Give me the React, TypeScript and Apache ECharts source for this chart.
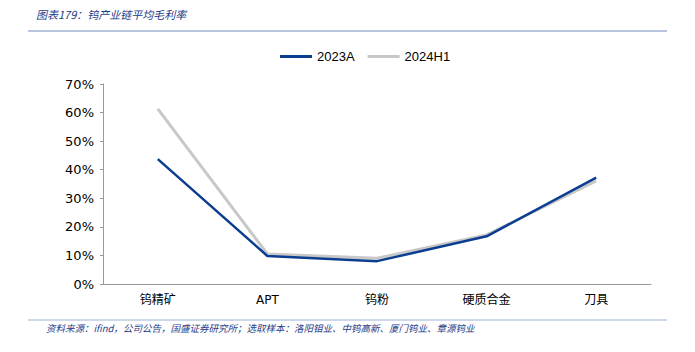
import React, { useEffect, useRef } from "react";
import * as echarts from "echarts";

const categories = ["钨精矿", "APT", "钨粉", "硬质合金", "刀具"];
const series2023A = [43.7, 9.8, 8.0, 16.7, 37.2];
const series2024H1 = [61.3, 10.5, 9.0, 17.2, 36.1];
const yTicks = [0, 10, 20, 30, 40, 50, 60, 70];
const titleText = "图表179：钨产业链平均毛利率";
const sourceText = "资料来源：ifind，公司公告，国盛证券研究所；选取样本：洛阳钼业、中钨高新、厦门钨业、章源钨业";

export default function App() {
  const ref = useRef<HTMLDivElement>(null);
  useEffect(() => {
    if (!ref.current) return;
    const chart = echarts.init(ref.current, null, { renderer: "svg" });
    const font = "'DejaVu Sans', 'Noto Sans CJK SC', sans-serif";
    const legendFont = "'Liberation Sans', 'Noto Sans CJK SC', sans-serif";
    chart.setOption({
      animation: false,
      backgroundColor: "#ffffff",
      textStyle: { fontFamily: font },
      graphic: [
        {
          type: "text",
          left: 36,
          top: 8,
          style: {
            text: titleText,
            fill: "#1f3c88",
            font: "italic 11px 'Noto Sans CJK SC', sans-serif",
          },
        },
        {
          type: "line",
          shape: { x1: 28, y1: 31, x2: 667, y2: 31 },
          style: { stroke: "#9fb2d6", lineWidth: 1.5 },
        },
        {
          type: "line",
          shape: { x1: 28, y1: 320, x2: 667, y2: 320 },
          style: { stroke: "#9fb2d6", lineWidth: 1.2 },
        },
        {
          type: "text",
          left: 46,
          top: 323,
          style: {
            text: sourceText,
            fill: "#1f3c88",
            font: "italic 9.5px 'Noto Sans CJK SC', sans-serif",
          },
        },
      ],
      legend: {
        top: 45,
        left: 275,
        itemWidth: 32,
        itemHeight: 3,
        itemGap: 13,
        icon: "rect",
        textStyle: { fontSize: 13, color: "#000", fontFamily: legendFont },
        data: ["2023A", "2024H1"],
      },
      grid: { left: 103, right: 44, top: 84, bottom: 68 },
      xAxis: {
        type: "category",
        data: categories,
        boundaryGap: true,
        axisLine: { lineStyle: { color: "#999999", width: 1 } },
        axisTick: { inside: true, length: 4, lineStyle: { color: "#999999" } },
        axisLabel: { color: "#000", fontSize: 12, margin: 10, fontFamily: font },
      },
      yAxis: {
        type: "value",
        min: 0,
        max: 70,
        interval: 10,
        splitLine: { show: false },
        axisLine: { show: true, lineStyle: { color: "#999999", width: 1 } },
        axisTick: { show: true, length: 3, lineStyle: { color: "#999999" } },
        axisLabel: {
          color: "#000",
          fontSize: 13,
          margin: 9,
          fontFamily: font,
          formatter: (v: number) => (yTicks.includes(v) ? v + "%" : ""),
        },
      },
      series: [
        {
          name: "2024H1",
          type: "line",
          data: series2024H1,
          symbol: "none",
          z: 2,
          itemStyle: { color: "#c8c8c8" },
          lineStyle: { color: "#c8c8c8", width: 3 },
        },
        {
          name: "2023A",
          type: "line",
          data: series2023A,
          symbol: "none",
          z: 3,
          itemStyle: { color: "#0b3d91" },
          lineStyle: { color: "#0b3d91", width: 2.5 },
        },
      ],
    });
    return () => chart.dispose();
  }, []);
  return <div ref={ref} style={{ width: 695, height: 352, margin: -8 }} />;
}
